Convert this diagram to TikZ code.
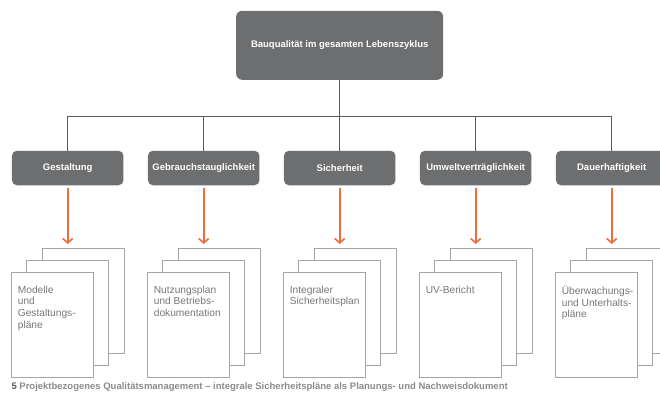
\documentclass[tikz,border=0pt]{standalone}
\usepackage{fontspec}
\setmainfont{Liberation Sans}
\usetikzlibrary{arrows.meta}
\definecolor{boxgray}{HTML}{6D6E70}
\definecolor{linegray}{HTML}{5A5B5D}
\definecolor{sheetgray}{HTML}{A3A4A6}
\definecolor{doctext}{HTML}{77787A}
\definecolor{arroworange}{HTML}{F36A3E}
\definecolor{captgray}{HTML}{8A8B8D}
\begin{document}
\begin{tikzpicture}[x=1pt,y=-1pt,
  topbox/.style={fill=boxgray,rounded corners=6pt,minimum width=207pt,minimum height=69pt,inner sep=0pt,
     text=white,font=\fontsize{9.5}{11}\selectfont\bfseries},
  catbox/.style={fill=boxgray,rounded corners=5pt,minimum width=111.5pt,minimum height=34.5pt,inner sep=0pt,
     text=white,font=\fontsize{9.5}{11}\selectfont\bfseries},
  sheet/.style={draw=sheetgray,fill=white,line width=0.9pt,minimum width=82pt,minimum height=105pt,inner sep=0pt},
  doclabel/.style={anchor=north west,inner sep=0pt,align=left,text=doctext,font=\fontsize{10.2}{11.8}\selectfont},
  tree/.style={draw=linegray,line width=0.7pt},
  flow/.style={draw=arroworange,line width=1.9pt,-{Straight Barb[length=4.5pt,width=10pt,line width=1.6pt]}}
]
\useasboundingbox (0,0) rectangle (660,393);
\clip (0,0) rectangle (660,393);

\node[topbox] (top) at (339.7,45.3) {Bauqualität im gesamten Lebenszyklus};
\coordinate (hub) at (339.7,116.3);
\coordinate (hl) at (67.7,116.3);
\coordinate (hr) at (611.7,116.3);

\foreach \i/\name/\doc in {
  0/Gestaltung/{Modelle\\und\\Gestaltungs-\\pläne},
  1/Gebrauchstauglichkeit/{Nutzungsplan\\und Betriebs-\\dokumentation},
  2/Sicherheit/{Integraler\\Sicherheitsplan},
  3/Umweltverträglichkeit/{UV-Bericht},
  4/Dauerhaftigkeit/{Überwachungs-\\und Unterhalts-\\pläne}} {
  \pgfmathsetmacro{\cx}{67.7+136*\i}
  \node[catbox] (c\i) at (\cx,168) {\name};
  \coordinate (t\i) at (\cx,116.3);
  \node[sheet] (s\i c) at (\cx-56+41+30.4,301) {};
  \node[sheet] (s\i b) at (\cx-56+41+15.2,313) {};
  \node[sheet] (s\i a) at (\cx-56+41,325) {};
  \coordinate (tip\i) at (\cx,244);
  \draw[flow] (c\i.south) ++(0,2.5) -- (tip\i);
  \node[doclabel] (d\i) at ([xshift=6.4pt,yshift=-13.5pt]s\i a.north west) {\doc};
  \draw[tree] (t\i) -- (c\i.north);
}
\draw[tree] (top.south) -- (hub);
\draw[tree] (hl) -- (hr);

\node[anchor=west,inner sep=0pt,text=captgray,font=\fontsize{9.5}{11}\selectfont\bfseries] (cap) at (11.3,387)
  {\textcolor{linegray}{5} Projektbezogenes Qualitätsmanagement – integrale Sicherheitspläne als Planungs- und Nachweisdokument};
\end{tikzpicture}
\end{document}
